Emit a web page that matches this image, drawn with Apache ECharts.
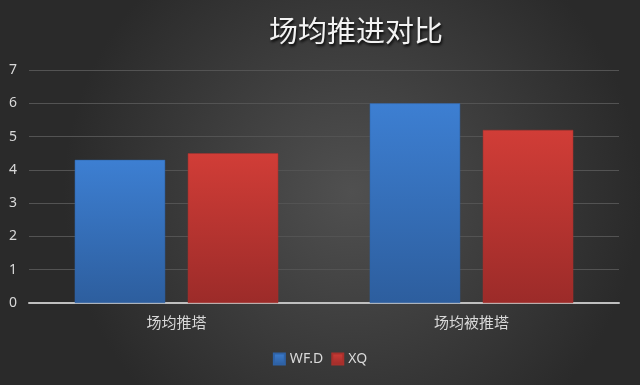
<!DOCTYPE html>
<html><head><meta charset="utf-8">
<script src="https://cdn.jsdelivr.net/npm/echarts@6/dist/echarts.min.js"></script>
<style>html,body{margin:0;padding:0;background:#333;}#c{width:640px;height:385px;}</style>
</head><body><div id="c"></div>
<script>
const categories = ['场均推塔', '场均被推塔'];
const seriesNames = ['WF.D', 'XQ'];
const wfdValues = [4.3, 6.0];
const xqValues = [4.5, 5.2];
const yTicks = [0, 1, 2, 3, 4, 5, 6, 7];

const chart = echarts.init(document.getElementById('c'));
function grad(top, bottom) {
  return new echarts.graphic.LinearGradient(0, 0, 0, 1, [{offset: 0, color: top}, {offset: 1, color: bottom}]);
}
chart.setOption({
  backgroundColor: new echarts.graphic.RadialGradient(0.55, 0.5, 0.75, [
    {offset: 0, color: '#505050'}, {offset: 1, color: '#2a2a2a'}
  ]),
  animation: false,
  title: {
    text: '场均推进对比', left: 351, top: 11, textAlign: 'center',
    textStyle: {color: '#f2f2f2', fontSize: 29, fontWeight: 'normal', fontFamily: 'Noto Sans CJK SC',
      textShadowColor: '#000', textShadowBlur: 3, textShadowOffsetX: 1, textShadowOffsetY: 2}
  },
  legend: {
    data: seriesNames, bottom: 14, left: 'center', itemWidth: 11, itemHeight: 11, itemGap: 8,
    icon: 'rect',
    textStyle: {color: '#d9d9d9', fontSize: 14, fontFamily: 'Noto Sans'}
  },
  grid: {left: 29, right: 21, top: 70, bottom: 82, containLabel: false},
  xAxis: {
    type: 'category', data: categories,
    axisLine: {lineStyle: {color: '#bfbfbf', width: 2}},
    axisTick: {show: false},
    axisLabel: {color: '#d9d9d9', fontSize: 15, margin: 12, fontFamily: 'Noto Sans CJK SC'}
  },
  yAxis: {
    type: 'value', min: yTicks[0], max: yTicks[yTicks.length - 1], interval: 1,
    axisLine: {show: false}, axisTick: {show: false},
    axisLabel: {color: '#d9d9d9', fontSize: 14, margin: 12, fontFamily: 'Noto Sans'},
    splitLine: {lineStyle: {color: '#535353', width: 1}}
  },
  series: [
    {name: seriesNames[0], type: 'bar', data: wfdValues, barGap: '25%', barCategoryGap: '31%',
      itemStyle: {color: grad('#3d7fd2', '#2d5e9e'), borderColor: '#2f62a6', borderWidth: 0.5}},
    {name: seriesNames[1], type: 'bar', data: xqValues,
      itemStyle: {color: grad('#d13d37', '#9c2b29'), borderColor: '#a8302c', borderWidth: 0.5}}
  ]
});
</script></body></html>
